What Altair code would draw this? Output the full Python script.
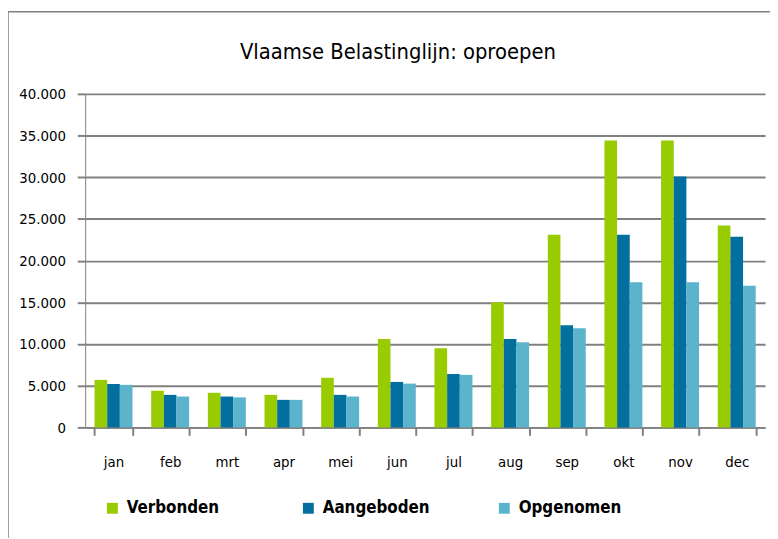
import altair as alt
import pandas as pd

title_text = "Vlaamse Belastinglijn: oproepen"
months = ["jan", "feb", "mrt", "apr", "mei", "jun", "jul", "aug", "sep", "okt", "nov", "dec"]
series = ["Verbonden", "Aangeboden", "Opgenomen"]
colors = ["#99cc00", "#036f9e", "#5cb3cc"]
verbonden = [5700, 4400, 4150, 3900, 5950, 10600, 9500, 15000, 23100, 34400, 34400, 24200]
aangeboden = [5200, 3900, 3700, 3300, 3900, 5450, 6400, 10600, 12250, 23100, 30100, 22850]
opgenomen = [5100, 3700, 3600, 3300, 3700, 5250, 6300, 10200, 11900, 17400, 17400, 17000]
y_ticks = [0, 5000, 10000, 15000, 20000, 25000, 30000, 35000, 40000]

rows = []
for name, vals in zip(series, [verbonden, aangeboden, opgenomen]):
    for m, v in zip(months, vals):
        rows.append({"maand": m, "reeks": name, "waarde": v})
df = pd.DataFrame(rows)

FONT = "Liberation Sans Narrow, DejaVu Sans Condensed, Arial Narrow, sans-serif"
GRAY = "#808080"

bars = alt.Chart(df).mark_bar().encode(
    x=alt.X(
        "maand:N",
        sort=months,
        scale=alt.Scale(paddingInner=0.33, paddingOuter=0.165),
        axis=alt.Axis(
            title=None, labelAngle=0, tickBand="extent", domainColor=GRAY,
            domainWidth=2, tickColor=GRAY, tickWidth=2, tickSize=8,
            labelPadding=20, labelFontSize=15, labelFont=FONT, labelColor="#000000",
            grid=False,
        ),
    ),
    xOffset=alt.XOffset("reeks:N", sort=series, scale=alt.Scale(paddingInner=0, paddingOuter=0)),
    y=alt.Y(
        "waarde:Q",
        scale=alt.Scale(domain=[0, 40000], nice=False),
        axis=alt.Axis(
            title=None, values=y_ticks,
            labelExpr="replace(format(datum.value, ',d'), ',', '.')",
            grid=True, gridColor=GRAY, gridWidth=2, domainColor=GRAY, domainWidth=1,
            tickColor=GRAY, tickWidth=2, tickSize=8, labelPadding=12,
            labelFontSize=15, labelFont=FONT, labelColor="#000000",
        ),
    ),
    color=alt.Color(
        "reeks:N",
        sort=series,
        scale=alt.Scale(domain=series, range=colors),
        legend=alt.Legend(
            orient="none", legendX=19, legendY=410, direction="horizontal",
            columns=3, title=None, symbolType="square", symbolSize=121,
            symbolStrokeWidth=0, labelFontSize=17, labelFontWeight="bold",
            labelFont=FONT, labelColor="#000000", columnPadding=66,
            gridAlign="all", padding=0, labelOffset=6,
        ),
    ),
)

frame_df = pd.DataFrame({"k": [0]})
left_border = alt.Chart(frame_df).mark_rule(color=GRAY, strokeWidth=1.5).encode(
    x=alt.value(-78), y=alt.value(-83), y2=alt.value(460)
)
top_border = alt.Chart(frame_df).mark_rule(color=GRAY, strokeWidth=1.5).encode(
    x=alt.value(-78), x2=alt.value(700), y=alt.value(-83)
)
title_mark = alt.Chart(pd.DataFrame({"t": [title_text]})).mark_text(
    font=FONT, fontSize=22, color="#000000", align="center", baseline="alphabetic"
).encode(x=alt.value(316), y=alt.value(-35), text="t:N")

chart = alt.layer(bars, left_border, top_border, title_mark).properties(
    width=687,
    height=337,
    padding={"left": 78, "top": 84, "right": 5, "bottom": 109},
    autosize=alt.AutoSizeParams(type="none"),
).configure_view(stroke=None)

chart.save("out.html", embed_options={"renderer": "svg", "actions": False})
